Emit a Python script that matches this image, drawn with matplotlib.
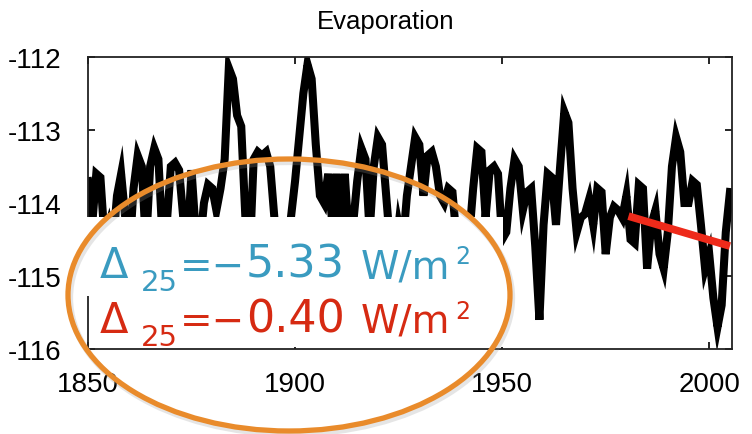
import matplotlib
matplotlib.use("Agg")
import matplotlib.pyplot as plt
from matplotlib.patches import Ellipse, Rectangle

plt.rcParams['axes.unicode_minus'] = False

years = list(range(1850, 2006))
evap = [
    -113.7, -114.3, -113.6, -113.65, -114.5, -114.3, -114.6, -113.9, -113.6, -114.2,   # 1850-1859
    -114.7, -113.8, -113.35, -113.5, -114.6, -113.5, -113.25, -113.4, -114.5, -114.3,  # 1860-1869
    -113.5, -113.45, -113.55, -114.2, -114.6, -113.55, -114.4, -114.6, -114.0, -113.75,  # 1870-1879
    -113.8, -114.1, -113.8, -113.4, -112.15, -112.3, -112.8, -112.95, -114.2, -114.8,  # 1880-1889
    -113.4, -113.3, -113.35, -113.3, -113.5, -114.2, -114.7, -114.8, -114.6, -114.2,   # 1890-1899
    -113.7, -113.1, -112.5, -112.1, -112.3, -113.2, -113.9, -114.0, -113.6, -114.3,    # 1900-1909
    -113.6, -114.4, -113.6, -114.5, -114.3, -113.7, -113.25, -113.4, -114.4, -113.5,   # 1910-1919
    -113.1, -113.2, -113.9, -114.6, -114.8, -114.3, -114.6, -113.9, -113.5, -113.1,    # 1920-1929
    -113.2, -113.9, -113.35, -113.3, -113.5, -113.9, -114.0, -113.8, -113.85, -114.5,  # 1930-1939
    -114.8, -114.6, -114.5, -113.8, -113.25, -113.3, -114.2, -113.55, -113.5, -113.6,  # 1940-1949
    -114.5, -114.4, -113.8, -113.4, -113.5, -114.1, -113.85, -113.8, -114.6, -115.6,   # 1950-1959
    -114.3, -113.6, -113.65, -114.3, -113.5, -112.75, -112.9, -113.8, -114.4, -114.2,  # 1960-1969
    -114.15, -113.95, -114.3, -113.8, -113.85, -114.7, -114.2, -114.05, -114.1, -114.2,  # 1970-1979
    -113.9, -114.5, -114.55, -113.75, -113.8, -114.9, -114.3, -114.1, -114.7, -114.9,  # 1980-1989
    -114.4, -113.5, -113.1, -113.3, -114.0, -114.0, -113.7, -113.75, -114.3, -114.9,   # 1990-1999
    -114.7, -115.3, -115.7, -115.4, -114.4, -113.85,                                   # 2000-2005
]
trend_years = [1980.5, 2005]
trend_vals = [-114.18, -114.59]

xticks = [1850, 1900, 1950, 2000]
yticks = [-116, -115, -114, -113, -112]
title = "Evaporation"
deltas = ["5.33", "0.40"]

W, H = 752, 435
fig = plt.figure(figsize=(W / 100, H / 100), dpi=100)
ax = fig.add_axes([88 / W, 1 - 350 / H, (732 - 88) / W, (350 - 58) / H])

ax.plot(years, evap, color='black', lw=5.8, solid_joinstyle='miter', zorder=2)
ax.plot(trend_years, trend_vals, color='#ee2a1a', lw=5.5, solid_capstyle='butt', zorder=3)
ax.plot([1869], [-115.22], marker='s', ms=3.5, color='black', zorder=6, ls='none')

ax.set_xlim(1850, 2005.5)
ax.set_ylim(-116, -112)
ax.set_xticks(xticks)
ax.set_yticks(yticks)
ax.set_xticklabels([str(t) for t in xticks])
ax.set_yticklabels([str(t) for t in yticks])
ax.tick_params(direction='in', length=5, width=1.2, top=True, right=True,
               labelsize=20)
ax.tick_params(axis='y', pad=19)
ax.tick_params(axis='x', pad=16)
for lab in ax.get_xticklabels() + ax.get_yticklabels():
    lab.set_fontfamily('Liberation Sans')
for s in ax.spines.values():
    s.set_linewidth(1.3)
    s.set_color('#222222')

fig.text(386 / W, 1 - 22 / H, title, ha='center', va='center',
         fontsize=18.5, family='Liberation Sans')

# white boxes behind the annotation
fig.patches.append(Rectangle((70 / W, 1 - 297 / H), (503 - 70) / W, (297 - 218) / H,
                             transform=fig.transFigure, facecolor='white',
                             edgecolor='none', zorder=4))
fig.patches.append(Rectangle((90 / W, 1 - 348 / H), (503 - 90) / W, (348 - 297) / H,
                             transform=fig.transFigure, facecolor='white',
                             edgecolor='none', zorder=4))

def piece(x, y, s, size, color, fam='DejaVu Sans'):
    fig.text(x / W, 1 - y / H, s, fontsize=size, color=color, family=fam,
             ha='left', va='baseline', zorder=7)

blue = '#3a9bc0'
red = '#d62a12'
for (base, val, col) in [(278, deltas[0], blue), (333, deltas[1], red)]:
    piece(100, base, '\u0394', 30, col)
    piece(141, base + 13, '25', 21, col)
    piece(180, base, '=\u2212', 28, col)
    piece(246, base, val, 32, col)
    piece(361, base, 'W/m', 28, col)
    piece(455, base - 14, '2', 17, col)

# faint shadow and ellipse
fig.patches.append(Ellipse((291 / W, 1 - 299 / H), 442 / W, 272 / H,
                           transform=fig.transFigure, facecolor='none',
                           edgecolor='#999999', lw=4.5, alpha=0.25, zorder=7.9))
fig.patches.append(Ellipse((289 / W, 1 - 296 / H), 442 / W, 272 / H,
                           transform=fig.transFigure, facecolor='none',
                           edgecolor='#e98b2b', lw=3.8, zorder=8))

fig.savefig('out.png', dpi=100)
